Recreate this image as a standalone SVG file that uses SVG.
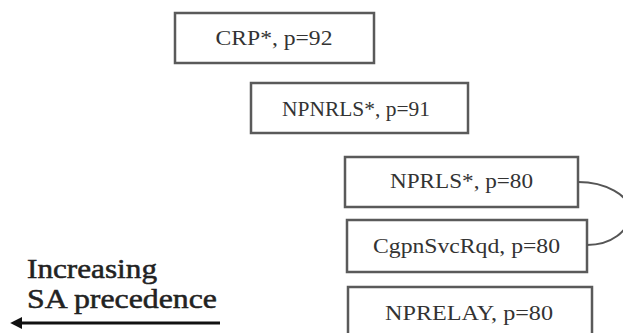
<svg xmlns="http://www.w3.org/2000/svg" width="623" height="333" viewBox="0 0 623 333">
<style>
.box{fill:#fff;stroke:#5a5a5a;stroke-width:2.5}
.t{font-family:"Liberation Serif","Times New Roman",serif;font-size:21px;fill:#333;text-anchor:middle}
.lbl{font-family:"Liberation Serif","Times New Roman",serif;font-size:27px;fill:#222;stroke:#222;stroke-width:0.5}
.conn{fill:none;stroke:#555;stroke-width:2}
</style>
<defs>
<marker id="ah" viewBox="0 0 10 10" refX="1" refY="5" markerWidth="4" markerHeight="4.4" markerUnits="strokeWidth" orient="auto-start-reverse">
<path d="M0,0 L10,5 L0,10 z" fill="#111"/>
</marker>
</defs>
<g id="crp"><rect class="box" x="175" y="13" width="199" height="50"/><text class="t" x="274" y="45" textLength="117" lengthAdjust="spacingAndGlyphs">CRP*, p=92</text></g>
<g id="npnrls"><rect class="box" x="251" y="83" width="217" height="50"/><text class="t" x="356" y="116" textLength="148" lengthAdjust="spacingAndGlyphs">NPNRLS*, p=91</text></g>
<g id="nprls"><rect class="box" x="345" y="157" width="233" height="50"/><text class="t" x="461.5" y="188" textLength="143" lengthAdjust="spacingAndGlyphs">NPRLS*, p=80</text></g>
<g id="cgpnsvcrqd"><rect class="box" x="347" y="220" width="240" height="52"/><text class="t" x="466.5" y="253" textLength="187" lengthAdjust="spacingAndGlyphs">CgpnSvcRqd, p=80</text></g>
<g id="nprelay"><rect class="box" x="348" y="287" width="244" height="50"/><text class="t" x="469" y="320" textLength="168" lengthAdjust="spacingAndGlyphs">NPRELAY, p=80</text></g>
<g id="connectors">
<path class="conn" d="M578,182 C605,182 630,195 630,212 C630,232 610,245 587,245"/>
<line x1="220" y1="323" x2="21" y2="323" stroke="#111" stroke-width="3" marker-end="url(#ah)"/>
</g>
<g id="legend">
<text class="lbl" x="27" y="278" textLength="130" lengthAdjust="spacingAndGlyphs">Increasing</text>
<text class="lbl" x="27" y="308" textLength="190" lengthAdjust="spacingAndGlyphs">SA precedence</text>
</g>
</svg>
